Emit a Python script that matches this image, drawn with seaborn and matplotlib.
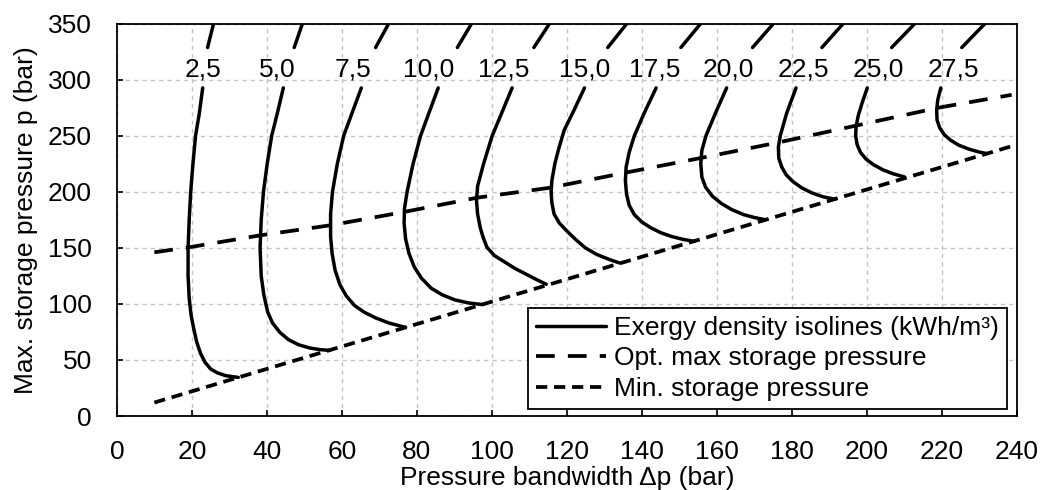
import matplotlib
matplotlib.use("Agg")
import matplotlib.pyplot as plt
from matplotlib.lines import Line2D
import seaborn as sns
import pandas as pd

# ---------------- data ----------------
level_labels = ["2,5", "5,0", "7,5", "10,0", "12,5", "15,0", "17,5", "20,0", "22,5", "25,0", "27,5"]
label_dp = [22.9, 42.8, 63.0, 83.2, 103.2, 124.8, 143.3, 163.0, 183.1, 203.1, 223.0]
label_p = 309

# upper segments (above the labels)
up_2_5_dp = [25.8, 24.2];    up_2_5_p = [350, 328.6]
up_5_0_dp = [49.5, 47.3];    up_5_0_p = [350, 328.6]
up_7_5_dp = [72.5, 69.0];    up_7_5_p = [350, 328.6]
up_10_0_dp = [94.6, 90.8];   up_10_0_p = [350, 328.6]
up_12_5_dp = [115.4, 111.2]; up_12_5_p = [350, 328.6]
up_15_0_dp = [136.0, 130.9]; up_15_0_p = [350, 328.6]
up_17_5_dp = [155.7, 150.4]; up_17_5_p = [350, 328.6]
up_20_0_dp = [175.1, 169.5]; up_20_0_p = [350, 328.6]
up_22_5_dp = [193.7, 188.0]; up_22_5_p = [350, 328.6]
up_25_0_dp = [212.8, 206.6]; up_25_0_p = [350, 328.6]
up_27_5_dp = [231.5, 225.3]; up_27_5_p = [350, 328.6]

# lower segments (below the labels, down to the min. pressure line)
lo_2_5_dp = [22.9, 22.0, 21.0, 20.3, 19.7, 19.3, 19.0, 19.0, 19.3, 19.8, 20.5, 21.3, 22.3, 23.5, 25.0, 26.8, 29.0, 32.4]
lo_2_5_p = [292.6, 270, 250, 225, 200, 175, 150, 125, 105, 90, 78, 66, 56, 48, 42, 38.5, 36, 34.4]
lo_5_0_dp = [44.4, 42.8, 41.3, 40.1, 39.1, 38.5, 38.2, 38.5, 39.2, 40.2, 41.5, 43.5, 45.8, 48.5, 51.5, 54.2, 56.8]
lo_5_0_p = [292.6, 270, 250, 225, 200, 175, 150, 125, 108, 93, 83, 74.5, 68, 63.5, 60.6, 59.2, 58.5]
lo_7_5_dp = [65.2, 62.7, 60.5, 58.8, 57.5, 57.0, 57.0, 57.4, 58.2, 59.5, 61.2, 63.4, 66.0, 69.0, 72.5, 77.0]
lo_7_5_p = [292.6, 270, 250, 225, 200, 180, 160, 145, 130, 117, 107, 98.5, 92.5, 87.5, 83, 79]
lo_10_0_dp = [85.7, 83.2, 81.0, 79.0, 77.4, 76.7, 76.6, 77.0, 77.9, 79.3, 81.2, 83.8, 86.8, 90.2, 93.8, 97.4]
lo_10_0_p = [292.6, 270, 250, 225, 200, 185, 172, 158, 145, 133, 123, 114, 108, 103.5, 100.8, 99.4]
lo_12_5_dp = [105.4, 102.6, 100.1, 97.8, 96.2, 95.9, 96.2, 96.9, 97.7, 98.7, 100.7, 103.2, 106.2, 109.4, 112.0, 114.5]
lo_12_5_p = [292.6, 270, 250, 225, 205, 192, 180, 168, 159, 150.4, 143, 137.8, 131.5, 126, 121.5, 117.5]
lo_15_0_dp = [124.7, 121.8, 119.3, 117.8, 116.8, 116.0, 115.8, 116.0, 116.6, 118.0, 120.0, 122.3, 124.9, 128.0, 131.4, 134.0]
lo_15_0_p = [292.6, 272, 255, 238, 225, 210, 200, 190, 180, 172, 165, 157.5, 150, 144, 139.5, 136.5]
lo_17_5_dp = [143.8, 140.6, 138.0, 136.6, 135.8, 135.6, 135.9, 136.6, 138.0, 140.0, 142.3, 145.0, 148.0, 151.0, 154.0]
lo_17_5_p = [292.6, 270, 250, 235, 222, 210, 198, 188, 179.5, 173, 168, 163.5, 160, 157.5, 155.7]
lo_20_0_dp = [162.6, 159.6, 157.1, 156.0, 155.7, 156.0, 157.0, 158.8, 161.2, 164.0, 167.2, 170.0, 172.5]
lo_20_0_p = [292.6, 270, 250, 237, 225, 213, 204, 196, 189.5, 184, 179.5, 177, 175.3]
lo_22_5_dp = [181.1, 178.6, 176.9, 176.4, 176.5, 177.3, 178.5, 180.3, 182.6, 185.3, 188.3, 191.5]
lo_22_5_p = [292.6, 270, 250, 240, 230, 222, 215, 209, 203.5, 199, 195.5, 193.3]
lo_25_0_dp = [200.1, 198.8, 197.7, 197.1, 197.0, 197.4, 198.3, 199.8, 201.8, 204.3, 207.0, 210.0]
lo_25_0_p = [292.6, 280, 268, 257.8, 250, 242, 235, 229, 224, 219.5, 216, 213.2]
lo_27_5_dp = [219.7, 218.9, 218.6, 218.7, 219.4, 220.6, 222.3, 224.5, 227.2, 229.8, 232.0]
lo_27_5_p = [292.6, 282, 273, 264, 257, 251, 246, 241.5, 238, 235.5, 234]

# optimal max storage pressure
opt_dp = [10, 18.8, 38.4, 57.0, 76.5, 96.1, 115.6, 135.6, 155.6, 176.9, 197.3, 219.0, 238.6]
opt_p = [146, 150.2, 161.2, 170.1, 181.9, 194.7, 203.6, 217.0, 230.0, 244.3, 259.1, 274.9, 286.4]

# min storage pressure
min_dp = [10, 240]
min_p = [12, 242]

legend_labels = ["Exergy density isolines (kWh/m³)", "Opt. max storage pressure", "Min. storage pressure"]
x_ticks = list(range(0, 241, 20))
y_ticks = list(range(0, 351, 50))

# ---------------- build table ----------------
segments = [
    (up_2_5_dp, up_2_5_p), (lo_2_5_dp, lo_2_5_p),
    (up_5_0_dp, up_5_0_p), (lo_5_0_dp, lo_5_0_p),
    (up_7_5_dp, up_7_5_p), (lo_7_5_dp, lo_7_5_p),
    (up_10_0_dp, up_10_0_p), (lo_10_0_dp, lo_10_0_p),
    (up_12_5_dp, up_12_5_p), (lo_12_5_dp, lo_12_5_p),
    (up_15_0_dp, up_15_0_p), (lo_15_0_dp, lo_15_0_p),
    (up_17_5_dp, up_17_5_p), (lo_17_5_dp, lo_17_5_p),
    (up_20_0_dp, up_20_0_p), (lo_20_0_dp, lo_20_0_p),
    (up_22_5_dp, up_22_5_p), (lo_22_5_dp, lo_22_5_p),
    (up_25_0_dp, up_25_0_p), (lo_25_0_dp, lo_25_0_p),
    (up_27_5_dp, up_27_5_p), (lo_27_5_dp, lo_27_5_p),
]
rows = []
for i, (xs, ys) in enumerate(segments):
    for j, (xv, yv) in enumerate(zip(xs, ys)):
        rows.append({"seg": i, "order": j, "dp": xv, "p": yv})
iso_df = pd.DataFrame(rows)

# ---------------- style ----------------
sns.set_style("ticks")
plt.rcParams["font.family"] = ["Liberation Sans", "DejaVu Sans"]
FS = 19
plt.rcParams.update({
    "font.size": FS,
    "text.color": "black",
    "axes.labelcolor": "black",
    "xtick.color": "black",
    "ytick.color": "black",
    "axes.edgecolor": "black",
})

fig = plt.figure(figsize=(10.43, 4.9), dpi=100)
ax = fig.add_axes([0.112, 0.151, 0.863, 0.801])

LW_ISO = 2.5
LW_DASH = 2.7
OPT_LS = (0, (5, 3.5))
MIN_LS = (0, (3.0, 1.8))

sns.lineplot(data=iso_df, x="dp", y="p", units="seg", estimator=None, sort=False,
             color="black", legend=False, ax=ax)
for ln in ax.lines:
    ln.set_linewidth(LW_ISO)
    ln.set_solid_joinstyle("round")
sns.lineplot(x=opt_dp, y=opt_p, estimator=None, sort=False, color="black", ax=ax)
opt_line = ax.lines[-1]
opt_line.set_linewidth(LW_DASH)
opt_line.set_linestyle(OPT_LS)
sns.lineplot(x=min_dp, y=min_p, estimator=None, sort=False, color="black", ax=ax)
min_line = ax.lines[-1]
min_line.set_linewidth(LW_DASH)
min_line.set_linestyle(MIN_LS)

for lab, xv in zip(level_labels, label_dp):
    ax.text(xv, label_p, lab, ha="center", va="center", fontsize=FS, color="black")

ax.set_xlim(0, 240)
ax.set_ylim(0, 350)
ax.set_xticks(x_ticks)
ax.set_yticks(y_ticks)
ax.grid(True, color="#c4c4c4", linestyle=(0, (3, 3)), lw=1.0)
ax.set_axisbelow(True)
for s in ax.spines.values():
    s.set_color("black")
    s.set_linewidth(1.3)
ax.tick_params(direction="in", length=4, width=1.2, colors="black", labelsize=FS)
ax.tick_params(axis="x", pad=17)
ax.tick_params(axis="y", pad=18)
ax.set_xlabel("Pressure bandwidth Δp (bar)", fontsize=FS, labelpad=2)
ax.set_ylabel("Max. storage pressure p (bar)", fontsize=FS, labelpad=7)

handles = [
    Line2D([], [], color="black", lw=LW_ISO),
    Line2D([], [], color="black", lw=LW_DASH, linestyle=OPT_LS),
    Line2D([], [], color="black", lw=LW_DASH, linestyle=MIN_LS),
]
leg = ax.legend(handles, legend_labels, loc="lower right", bbox_to_anchor=(0.989, 0.018),
                borderaxespad=0, fancybox=False, framealpha=1, edgecolor="black",
                fontsize=FS, handlelength=2.65, handletextpad=0.3, labelspacing=0.25,
                borderpad=0.3)
leg.get_frame().set_linewidth(1.3)
for t in leg.get_texts():
    t.set_color("black")

fig.savefig("out.png", dpi=100)
